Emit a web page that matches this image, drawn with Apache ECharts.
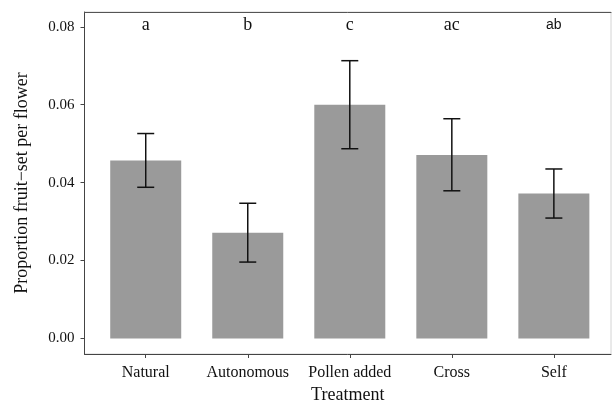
<!DOCTYPE html>
<html>
<head>
<meta charset="utf-8">
<script src="https://cdn.jsdelivr.net/npm/echarts@6/dist/echarts.min.js"></script>
<style>
  html, body { margin: 0; padding: 0; background: #fff; }
  #chart { width: 616px; height: 402px; }
</style>
</head>
<body>
<div id="chart"></div>
<script>
var categories = ['Natural', 'Autonomous', 'Pollen added', 'Cross', 'Self'];
var means = [0.0457, 0.0271, 0.0600, 0.0471, 0.0372];
var lower = [0.0388, 0.0196, 0.0487, 0.0379, 0.0309];
var upper = [0.0526, 0.0347, 0.0713, 0.0564, 0.0435];
var letters = ['a', 'b', 'c', 'ac', 'ab'];
var letterY = 0.0803;
var yTicks = [0, 0.02, 0.04, 0.06, 0.08];
var xTicks = [1, 2, 3, 4, 5];

var serif = '"Liberation Serif", "DejaVu Serif", serif';
var axisColor = '#444';

var myChart = echarts.init(document.getElementById('chart'));

var barData = means.map(function (v, i) { return [i + 1, v]; });
var errData = means.map(function (v, i) { return [i + 1, lower[i], upper[i]]; });
var letterData = letters.map(function (l, i) { return [i + 1, letterY]; });

var option = {
    animation: false,
    grid: {
        left: 84.5,
        right: 5,
        top: 12,
        bottom: 48,
        outerBoundsMode: 'none',
        containLabel: false,
        show: true,
        borderColor: '#d4d4d4',
        borderWidth: 1
    },
    xAxis: [{
        type: 'value',
        min: 0.4,
        max: 5.56,
        name: 'Treatment',
        nameLocation: 'middle',
        nameGap: 31,
        nameTextStyle: { fontFamily: serif, fontSize: 18, color: '#111' },
        axisLine: { show: true, onZero: false, lineStyle: { color: axisColor } },
        axisTick: { show: true, length: 4, lineStyle: { color: axisColor }, customValues: xTicks },
        axisLabel: {
            customValues: xTicks,
            margin: 11,
            fontFamily: serif,
            fontSize: 16,
            color: '#111',
            formatter: function (v) { return categories[Math.round(v) - 1] || ''; }
        },
        splitLine: { show: false }
    }, {
        type: 'value',
        position: 'top',
        min: 0.4,
        max: 5.56,
        axisLine: { show: true, onZero: false, lineStyle: { color: '#555' } },
        axisTick: { show: false },
        axisLabel: { show: false },
        splitLine: { show: false }
    }],
    yAxis: {
        type: 'value',
        min: -0.004,
        max: 0.0838,
        name: 'Proportion fruit\u2212set per flower',
        nameLocation: 'middle',
        nameGap: 53,
        nameRotate: 90,
        nameTextStyle: { fontFamily: serif, fontSize: 18, color: '#111' },
        axisLine: { show: true, onZero: false, lineStyle: { color: axisColor } },
        axisTick: { show: true, length: 4, lineStyle: { color: axisColor }, customValues: yTicks },
        axisLabel: {
            customValues: yTicks,
            margin: 10,
            fontFamily: serif,
            fontSize: 15,
            color: '#111',
            formatter: function (v) { return v.toFixed(2); }
        },
        splitLine: { show: false }
    },
    series: [{
        type: 'bar',
        data: barData,
        barWidth: 71,
        itemStyle: { color: '#9a9a9a' }
    }, {
        type: 'custom',
        data: errData,
        renderItem: function (params, api) {
            var x = api.value(0);
            var lo = api.coord([x, api.value(1)]);
            var hi = api.coord([x, api.value(2)]);
            var cap = 8.5;
            var style = { stroke: '#111', lineWidth: 1.5 };
            return {
                type: 'group',
                children: [
                    { type: 'line', shape: { x1: lo[0], y1: lo[1], x2: hi[0], y2: hi[1] }, style: style },
                    { type: 'line', shape: { x1: hi[0] - cap, y1: hi[1], x2: hi[0] + cap, y2: hi[1] }, style: style },
                    { type: 'line', shape: { x1: lo[0] - cap, y1: lo[1], x2: lo[0] + cap, y2: lo[1] }, style: style }
                ]
            };
        },
        z: 5
    }, {
        type: 'custom',
        data: letterData,
        renderItem: function (params, api) {
            var p = api.coord([api.value(0), api.value(1)]);
            var txt = letters[params.dataIndex];
            // the last letter is set smaller, in a sans face, as in the figure
            var font = txt === 'ab'
                ? '14px "Liberation Sans", Arial, sans-serif'
                : '18px ' + serif;
            return {
                type: 'text',
                x: p[0],
                y: p[1],
                style: {
                    text: txt,
                    font: font,
                    fill: '#111',
                    align: 'center',
                    verticalAlign: 'middle'
                }
            };
        },
        z: 6
    }]
};

myChart.setOption(option);
</script>
</body>
</html>
